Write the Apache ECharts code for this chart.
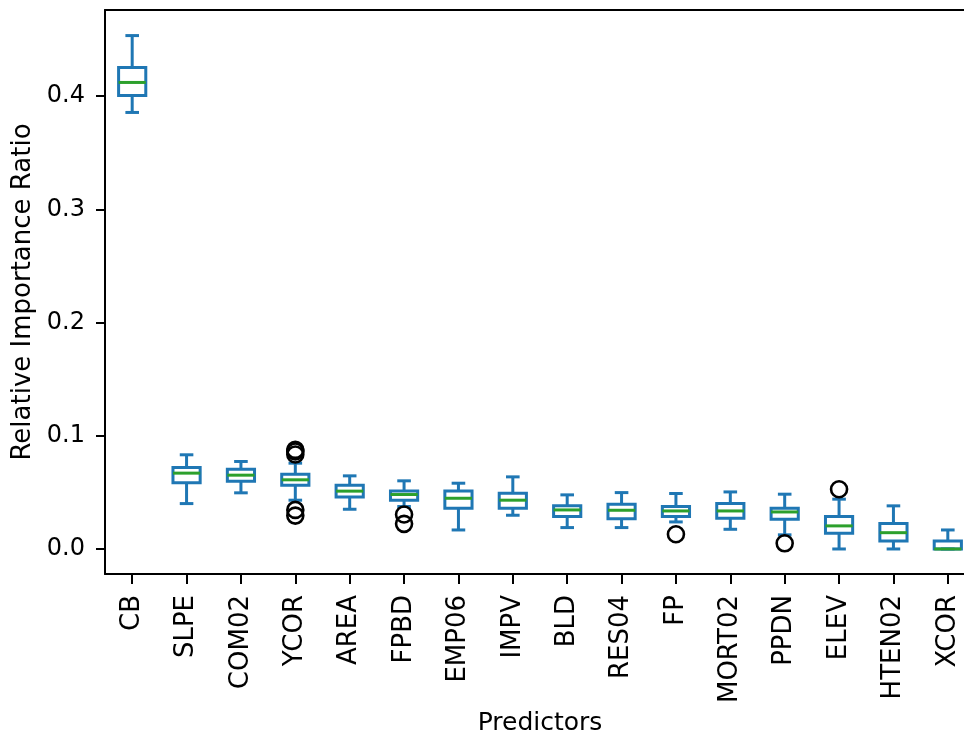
<!DOCTYPE html>
<html>
<head>
<meta charset="utf-8">
<script src="https://cdn.jsdelivr.net/npm/echarts@6/dist/echarts.min.js"></script>
<style>
  html, body { margin: 0; padding: 0; background: #fff; }
  #chart { width: 964px; height: 738px; }
</style>
</head>
<body>
<div id="chart"></div>
<script>
// Predictor names along the x axis
const predictors = ['CB', 'SLPE', 'COM02', 'YCOR', 'AREA', 'FPBD', 'EMP06', 'IMPV',
  'BLD', 'RES04', 'FP', 'MORT02', 'PPDN', 'ELEV', 'HTEN02', 'XCOR'];

// Box statistics per predictor
const lowerWhisker  = [0.3856, 0.0401, 0.0496, 0.0431, 0.0351, 0.0375, 0.0168, 0.0298,
  0.0189, 0.0189, 0.0239, 0.0174, 0.0125, 0.0000, 0.0000, 0.0000];
const lowerQuartile = [0.4006, 0.0584, 0.0599, 0.0564, 0.0460, 0.0431, 0.0360, 0.0360,
  0.0286, 0.0268, 0.0286, 0.0271, 0.0262, 0.0139, 0.0071, 0.0000];
const medians       = [0.4121, 0.0670, 0.0652, 0.0611, 0.0511, 0.0481, 0.0448, 0.0431,
  0.0345, 0.0342, 0.0336, 0.0336, 0.0327, 0.0204, 0.0144, 0.0000];
const upperQuartile = [0.4254, 0.0720, 0.0705, 0.0661, 0.0564, 0.0513, 0.0513, 0.0493,
  0.0381, 0.0395, 0.0375, 0.0401, 0.0360, 0.0286, 0.0224, 0.0071];
const upperWhisker  = [0.4535, 0.0832, 0.0773, 0.0758, 0.0646, 0.0602, 0.0581, 0.0637,
  0.0478, 0.0498, 0.0490, 0.0504, 0.0484, 0.0440, 0.0381, 0.0168];

// Outliers as [predictor, value]
const outlierPoints = [
  ['YCOR', 0.0875], ['YCOR', 0.0862], ['YCOR', 0.0835], ['YCOR', 0.0345], ['YCOR', 0.0295],
  ['FPBD', 0.0305], ['FPBD', 0.0222],
  ['FP', 0.0130],
  ['PPDN', 0.0050],
  ['ELEV', 0.0528]
];

// Y axis tick values
const yTicks = [0.0, 0.1, 0.2, 0.3, 0.4];

const BOX_BLUE = '#1f77b4';
const MEDIAN_GREEN = '#2ca02c';
const FONT = 'DejaVu Sans';
const LINE_W = 3;

const boxData = predictors.map((p, i) => [i, lowerWhisker[i], lowerQuartile[i], medians[i], upperQuartile[i], upperWhisker[i]]);
const outlierData = outlierPoints.map(([p, v]) => [predictors.indexOf(p), v]);

// Box, whiskers, caps and median for one predictor
function renderBox(params, api) {
  const idx = api.value(0);
  const band = api.size([1, 0])[0];
  const halfBox = band * 0.25;
  const halfCap = band * 0.125;
  const lo = api.coord([idx, api.value(1)]);
  const q1 = api.coord([idx, api.value(2)]);
  const md = api.coord([idx, api.value(3)]);
  const q3 = api.coord([idx, api.value(4)]);
  const hi = api.coord([idx, api.value(5)]);
  const x = lo[0];
  const stroke = { stroke: BOX_BLUE, lineWidth: LINE_W, fill: null };
  return {
    type: 'group',
    children: [
      { type: 'line', shape: { x1: x, y1: q3[1], x2: x, y2: hi[1] }, style: stroke },
      { type: 'line', shape: { x1: x, y1: q1[1], x2: x, y2: lo[1] }, style: stroke },
      { type: 'line', shape: { x1: x - halfCap, y1: hi[1], x2: x + halfCap, y2: hi[1] }, style: stroke },
      { type: 'line', shape: { x1: x - halfCap, y1: lo[1], x2: x + halfCap, y2: lo[1] }, style: stroke },
      { type: 'rect', shape: { x: x - halfBox, y: q3[1], width: halfBox * 2, height: q1[1] - q3[1] }, style: stroke },
      { type: 'line', shape: { x1: x - halfBox, y1: md[1], x2: x + halfBox, y2: md[1] },
        style: { stroke: MEDIAN_GREEN, lineWidth: LINE_W } }
    ]
  };
}

const chart = echarts.init(document.getElementById('chart'), null, { renderer: 'canvas' });

chart.setOption({
  backgroundColor: '#ffffff',
  animation: false,
  grid: { left: 105, top: 10, width: 870, height: 564, containLabel: false, outerBoundsMode: 'none' },
  xAxis: [
    {
      type: 'category',
      data: predictors,
      boundaryGap: true,
      name: 'Predictors',
      nameLocation: 'middle',
      nameGap: 127,
      nameTextStyle: { fontFamily: FONT, fontSize: 25, color: '#000' },
      axisLine: { show: true, onZero: false, lineStyle: { color: '#000', width: 2 } },
      axisTick: { show: true, alignWithLabel: true, length: 10, lineStyle: { color: '#000', width: 2 } },
      axisLabel: { rotate: 90, margin: 21, fontFamily: FONT, fontSize: 26, color: '#000', interval: 0 },
      splitLine: { show: false }
    },
    {
      type: 'category',
      data: predictors,
      position: 'top',
      axisLine: { show: true, onZero: false, lineStyle: { color: '#000', width: 2 } },
      axisTick: { show: false },
      axisLabel: { show: false },
      splitLine: { show: false }
    }
  ],
  yAxis: {
    type: 'value',
    min: -0.0221,
    max: 0.4761,
    name: 'Relative Importance Ratio',
    nameLocation: 'middle',
    nameGap: 68,
    nameTextStyle: { fontFamily: FONT, fontSize: 26, color: '#000' },
    axisLine: { show: true, onZero: false, lineStyle: { color: '#000', width: 2 } },
    axisTick: { show: true, length: 9, customValues: yTicks, lineStyle: { color: '#000', width: 2 } },
    axisLabel: {
      customValues: yTicks,
      margin: 20,
      fontFamily: FONT, fontSize: 24, color: '#000',
      formatter: v => v.toFixed(1)
    },
    splitLine: { show: false }
  },
  series: [
    {
      type: 'custom',
      renderItem: renderBox,
      encode: { x: 0, y: [1, 2, 3, 4, 5] },
      data: boxData,
      z: 2
    },
    {
      type: 'scatter',
      data: outlierData,
      symbol: 'circle',
      symbolSize: 16,
      itemStyle: { color: 'rgba(0,0,0,0)', borderColor: '#000', borderWidth: 2.6, opacity: 1 },
      z: 3
    }
  ]
});
</script>
</body>
</html>
